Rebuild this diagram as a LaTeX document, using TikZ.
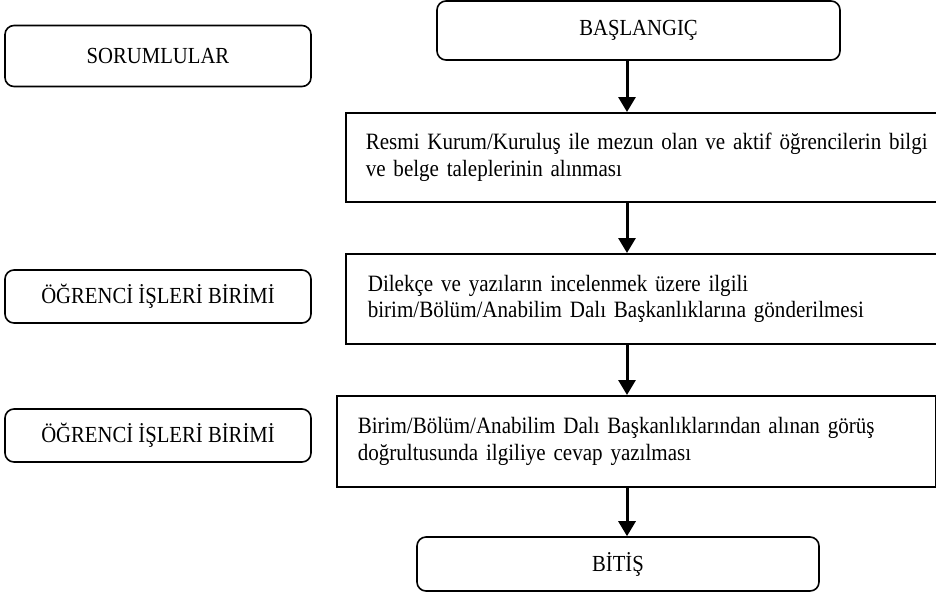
\documentclass[tikz,border=0pt]{standalone}
\usepackage{fontspec}
\setmainfont[FakeStretch=0.9]{Liberation Serif}
\usetikzlibrary{arrows.meta}
\begin{document}
\begin{tikzpicture}[x=1pt,y=-1pt,
        yuvarlak/.style={draw, line width=1.6pt, rounded corners=9pt, inner sep=0pt, font=\fontsize{23}{27}\selectfont},
        adim/.style={draw, line width=1.6pt, anchor=north west, align=left, inner ysep=0pt, font=\fontsize{23.4}{26.5}\selectfont},
        ok/.style={-{Triangle[length=15pt,width=17pt]}, line width=3pt}]
        \useasboundingbox (0,0) rectangle (936,595);
        \node[yuvarlak, minimum width=306pt, minimum height=61pt] (sorumlu) at (158,56) {SORUMLULAR};
        \node[yuvarlak, minimum width=306pt, minimum height=53pt] (birim1) at (158,296.5) {ÖĞRENCİ İŞLERİ BİRİMİ};
        \node[yuvarlak, minimum width=306pt, minimum height=53pt] (birim2) at (158,435.5) {ÖĞRENCİ İŞLERİ BİRİMİ};
        \node[yuvarlak, minimum width=403pt, minimum height=59pt] (basla) at (638.5,30.5) {BAŞLANGIÇ};
        \node[adim, minimum width=615pt, minimum height=89pt, inner xsep=20pt, text width=575pt] (adim1) at (345,112)
            {Resmi Kurum/Kuruluş ile mezun olan ve aktif öğrencilerin bilgi\\ve belge taleplerinin alınması};
        \node[adim, minimum width=615pt, minimum height=90pt, inner xsep=22pt, text width=571pt] (adim2) at (345,253)
            {Dilekçe ve yazıların incelenmek üzere ilgili\\birim/Bölüm/Anabilim Dalı Başkanlıklarına gönderilmesi};
        \node[adim, minimum width=599pt, minimum height=91pt, inner xsep=21pt, text width=557pt] (adim3) at (336,395)
            {Birim/Bölüm/Anabilim Dalı Başkanlıklarından alınan görüş\\doğrultusunda ilgiliye cevap yazılması};
        \node[yuvarlak, minimum width=402pt, minimum height=54pt] (bitis) at (618,564) {BİTİŞ};
        \coordinate (eksen) at (627,0);
        \draw[ok] (basla.south -| eksen) -- (adim1.north -| eksen);
        \draw[ok] (adim1.south -| eksen) -- (adim2.north -| eksen);
        \draw[ok] (adim2.south -| eksen) -- (adim3.north -| eksen);
        \draw[ok] (adim3.south -| eksen) -- (bitis.north -| eksen);
    \end{tikzpicture}
\end{document}
